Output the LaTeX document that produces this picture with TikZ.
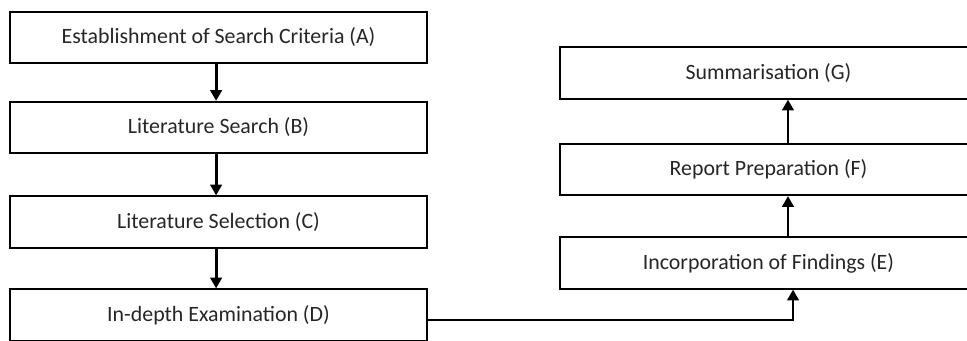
\documentclass[tikz,border=0pt]{standalone}
\usepackage{fontspec}
\setmainfont{Carlito}
\usetikzlibrary{arrows.meta}

\begin{document}
\begin{tikzpicture}[x=0.75pt,y=-0.75pt,line width=1.4pt]
        \tikzstyle{stage}=[draw,rectangle,minimum width=312.75pt,minimum height=38.5pt,inner sep=0pt,text=black!85,font=\fontsize{16.4}{19}\selectfont]
        \tikzstyle{flow}=[line width=2.1pt,-{Triangle[width=8.5pt,length=8pt]}]

        \useasboundingbox (0,0) rectangle (967,340);

        % Draw the left column of stages
        \node[stage] (A) at (218.5,37.5) {Establishment of Search Criteria (A)};
        \node[stage] (B) at (218.5,127.5) {Literature Search (B)};
        \node[stage] (C) at (218.5,222) {Literature Selection (C)};
        \node[stage] (D) at (218.5,315) {In-depth Examination (D)};

        % Draw the right column of stages
        \node[stage] (E) at (768.5,263) {Incorporation of Findings (E)};
        \node[stage] (F) at (768.5,169.5) {Report Preparation (F)};
        \node[stage] (G) at (768.5,73) {Summarisation (G)};

        % Connect the stages going down
        \draw[flow] ([xshift=-1.8pt]A.south) -- ([xshift=-1.8pt]B.north);
        \draw[flow] ([xshift=-1.8pt]B.south) -- ([xshift=-1.8pt]C.north);
        \draw[flow] ([xshift=-1.8pt]C.south) -- ([xshift=-1.8pt]D.north);

        % Cross over and go up
        \draw[flow] ([yshift=-3.75pt]D.east) -| ([xshift=18.4pt]E.south);
        \draw[flow] ([xshift=14.6pt]E.north) -- ([xshift=14.6pt]F.south);
        \draw[flow] ([xshift=14.6pt]F.north) -- ([xshift=14.6pt]G.south);
    \end{tikzpicture}
\end{document}
